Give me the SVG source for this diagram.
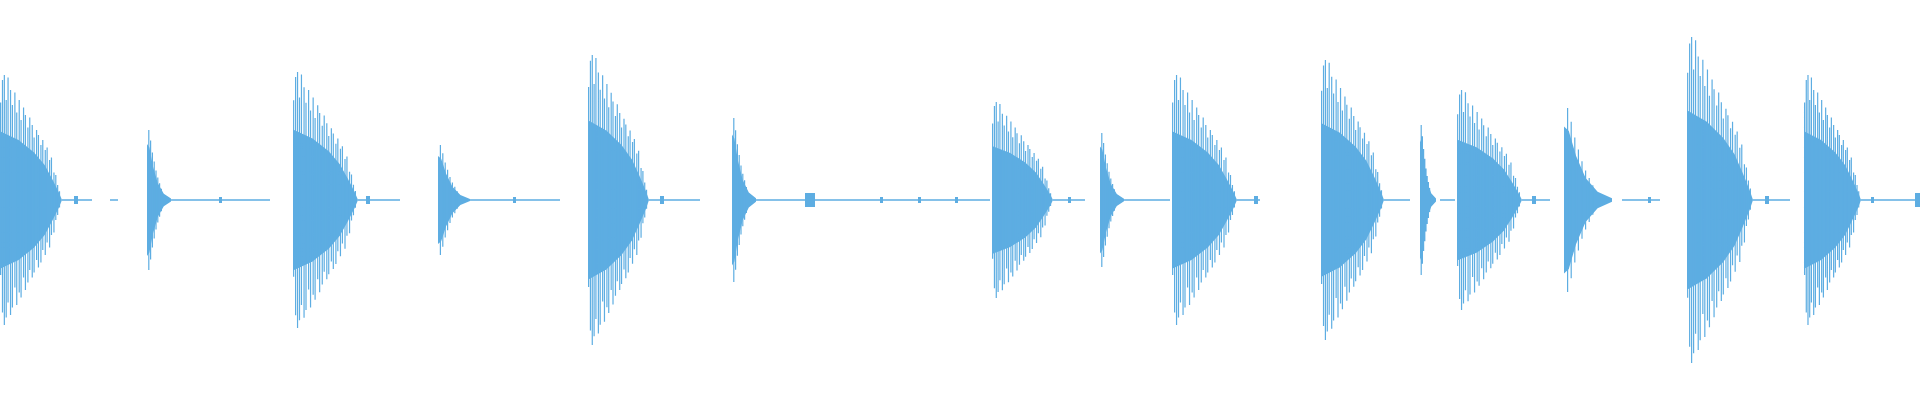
<svg xmlns="http://www.w3.org/2000/svg" width="1920" height="400" viewBox="0 0 1920 400">
<style>
.w{fill:#5dade2;stroke:none}
.s{fill:none;stroke:#5dade2;stroke-width:1.2;vector-effect:non-scaling-stroke}
.b{stroke:#5dade2;stroke-width:1.5;fill:none}
</style>
<defs>
<g id="big">
<path class="w" d="M0,-55 L30,-48 L55,-38 L72,-28 L85,-16 L95,-6 L100,0 L95,6 L85,16 L72,28 L55,38 L30,48 L0,55Z"/>
<path class="s" d="M1-78V60M4-96V90M7-100V100M10-80V94M13-98V82M17-88V92M20-76V86M24-86V70M27-70V84M31-80V74M34-64V78M38-74V62M41-68V72M45-58V66M48-66V56M52-60V62M55-50V58M59-56V48M62-52V54M66-44V50M69-48V40M73-40V44M76-42V34M80-32V38M83-34V28M87-22V26M90-20V16M93-12V12M96-7V6"/>
</g>
<g id="hit">
<path class="w" d="M0,-80 L4,-75 L10,-48 L18,-24 L28,-9 L40,-2 L40,2 L28,9 L18,24 L10,48 L4,75 L0,80Z"/>
<path class="s" d="M3-100V100M6-85V85M9-68V68M12-55V55M15-42V42M18-32V32M21-24V24M24-16V16"/>
</g>
</defs>
<g id="wave">
<path class="b" d="M62 200H92M110 200H118M165 200H270M358 200H400M463 200H560M649 200H700M750 200H990M1053 200H1085M1120 200H1170M1237 200H1260M1384 200H1410M1440 200H1455M1522 200H1550M1622 200H1660M1753 200H1790M1861 200H1920"/>
<use href="#big" transform="translate(0,200) scale(0.62,1.25)"/>
<use href="#hit" transform="translate(147,200) scale(0.6,0.7)"/>
<use href="#big" transform="translate(293,200) scale(0.65,1.28)"/>
<use href="#hit" transform="translate(438,200) scale(0.8,0.55)"/>
<use href="#big" transform="translate(588,200) scale(0.61,1.45)"/>
<use href="#hit" transform="translate(732,200) scale(0.6,0.82)"/>
<use href="#big" transform="translate(992,200) scale(0.61,0.98)"/>
<use href="#hit" transform="translate(1100,200) scale(0.6,0.67)"/>
<use href="#big" transform="translate(1172,200) scale(0.65,1.25)"/>
<use href="#big" transform="translate(1321,200) scale(0.63,1.4)"/>
<use href="#hit" transform="translate(1420,200) scale(0.4,0.75)"/>
<use href="#big" transform="translate(1457,200) scale(0.65,1.1)"/>
<use href="#hit" transform="translate(1564,200) scale(1.2,0.92)"/>
<use href="#big" transform="translate(1687,200) scale(0.66,1.63)"/>
<use href="#big" transform="translate(1804,200) scale(0.57,1.25)"/>
<path class="w" d="M74 196h4v8h-4zM219 197h3v6h-3zM366 196h4v8h-4zM513 197h3v6h-3zM660 196h4v8h-4zM805 193h10v14h-10zM880 197h3v6h-3zM918 197h3v6h-3zM955 197h3v6h-3zM1068 197h3v6h-3zM1254 196h4v8h-4zM1532 196h4v8h-4zM1648 197h3v6h-3zM1765 196h4v8h-4zM1871 197h3v6h-3zM1915 193h5v14h-5z"/>
</g>
</svg>
